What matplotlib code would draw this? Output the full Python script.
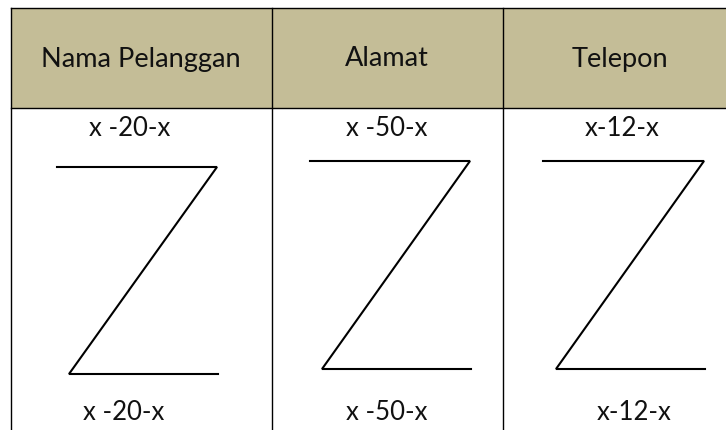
import matplotlib.pyplot as plt

plt.rcParams['font.family'] = ['Lato', 'DejaVu Sans']

# isi tabel
headers = ['Nama Pelanggan', 'Alamat', 'Telepon']
label_atas = ['x -20-x', 'x -50-x', 'x-12-x']
label_bawah = ['x -20-x', 'x -50-x', 'x-12-x']

# kolom (dalam piksel)
kolom_x = [11, 272, 503, 737]
header_x = [141, 387, 620]
atas_x = [130, 387, 622]
bawah_x = [124, 387, 634]

# bentuk Z tiap kolom: garis atas, diagonal, garis bawah
z_kiri_atas = [57, 310, 543]
z_kanan_atas = [217, 470, 704]
z_kiri_bawah = [69, 322, 556]
z_kanan_bawah = [218, 471, 705]
z_y_atas = [167, 161, 161]
z_y_bawah = [374, 369, 369]

fig = plt.figure(figsize=(7.26, 4.30), dpi=100)
ax = fig.add_axes([0, 0, 1, 1])
ax.set_xlim(0, 726)
ax.set_ylim(430, 0)
ax.axis('off')

top, head_bot = 7.5, 108

# header
ax.fill_between([kolom_x[0], kolom_x[-1]], top, head_bot, color='#c4bd97', lw=0)
ax.plot([kolom_x[0], 726], [top, top], color='black', lw=1)
ax.plot([kolom_x[0], 726], [head_bot, head_bot], color='black', lw=1)
for x in kolom_x[:-1]:
    ax.plot([x, x], [top, 430], color='black', lw=1)

fs_head = 19.5
fs_isi = 18.5
for i in range(3):
    ax.text(header_x[i], 59, headers[i], ha='center', va='center', fontsize=fs_head, color='#111111')
    ax.text(atas_x[i], 129, label_atas[i], ha='center', va='center', fontsize=fs_isi, color='#111111')
    ax.text(bawah_x[i], 413, label_bawah[i], ha='center', va='center', fontsize=fs_isi, color='#111111')
    xs = [z_kiri_atas[i], z_kanan_atas[i], z_kiri_bawah[i], z_kanan_bawah[i]]
    ys = [z_y_atas[i], z_y_atas[i], z_y_bawah[i], z_y_bawah[i]]
    ax.plot(xs, ys, color='black', lw=1.5, solid_joinstyle='miter')

fig.savefig('out.png', dpi=100)
